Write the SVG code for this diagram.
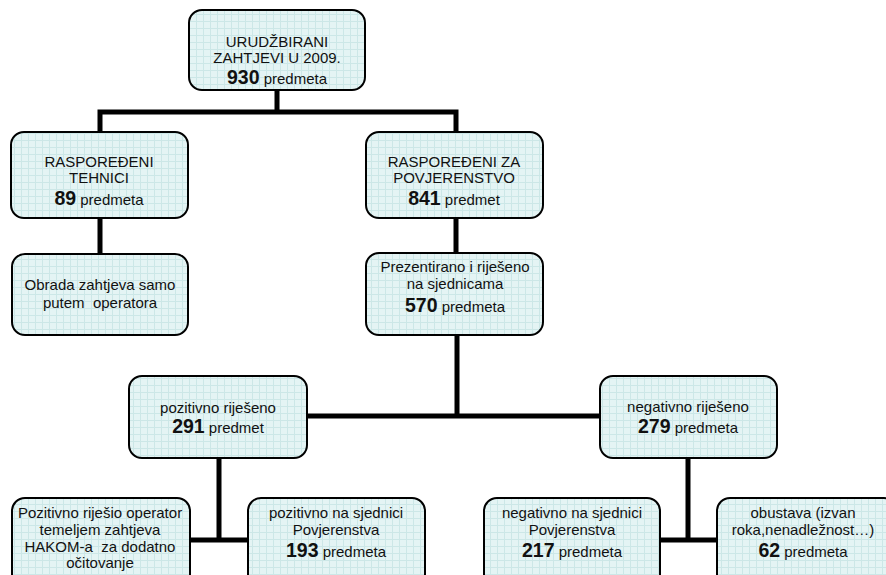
<svg xmlns="http://www.w3.org/2000/svg" width="886" height="575" viewBox="0 0 886 575">
<defs>
<pattern id="grid" width="7" height="7" patternUnits="userSpaceOnUse">
<rect width="7" height="7" fill="#e4f4f4"/>
<path d="M0 0.5H7M0.5 0V7" stroke="#cce7e7" stroke-width="1" fill="none"/>
</pattern>
<style>
.box{fill:url(#grid);stroke:#000;stroke-width:2}
.t{font-family:"Liberation Sans",Arial,sans-serif;font-size:15px;fill:#111;text-anchor:middle;white-space:pre}
.b{font-weight:bold;font-size:19.5px}
.c{stroke:#000;stroke-width:5;fill:none;stroke-linecap:square}
</style>
</defs>
<rect width="886" height="575" fill="#fff"/>
<g id="connectors">
<path class="c" d="M277 90V112M100 112H456M100 112V132M456 112V132"/>
<path class="c" d="M100 218V254M456 218V253"/>
<path class="c" d="M457 335V416M307 416H600"/>
<path class="c" d="M219 458V540M190 540H248"/>
<path class="c" d="M688 458V540M660 540H717"/>
</g>
<g id="n-top">
<rect class="box" x="189" y="10" width="176" height="80" rx="13"/>
<text class="t" x="277" y="47">URUDŽBIRANI</text>
<text class="t" x="277" y="63">ZAHTJEVI U 2009.</text>
<text class="t" x="277" y="84"><tspan class="b">930</tspan> predmeta</text>
</g>
<g id="n-tehnici">
<rect class="box" x="11" y="132" width="177" height="86" rx="13"/>
<text class="t" x="99" y="167">RASPOREĐENI</text>
<text class="t" x="99" y="183">TEHNICI</text>
<text class="t" x="99" y="205"><tspan class="b">89</tspan> predmeta</text>
</g>
<g id="n-povjerenstvo">
<rect class="box" x="366" y="132" width="177" height="86" rx="13"/>
<text class="t" x="454" y="167">RASPOREĐENI ZA</text>
<text class="t" x="454" y="183">POVJERENSTVO</text>
<text class="t" x="454" y="205"><tspan class="b">841</tspan> predmet</text>
</g>
<g id="n-obrada">
<rect class="box" x="12" y="254" width="176" height="81" rx="13"/>
<text class="t" x="100" y="290">Obrada zahtjeva samo</text>
<text class="t" x="100" y="308">putem  operatora</text>
</g>
<g id="n-prezentirano">
<rect class="box" x="366" y="253" width="177" height="82" rx="13"/>
<text class="t" x="455" y="272">Prezentirano i riješeno</text>
<text class="t" x="455" y="289">na sjednicama</text>
<text class="t" x="455" y="312"><tspan class="b">570</tspan> predmeta</text>
</g>
<g id="n-pozitivno">
<rect class="box" x="129" y="376" width="178" height="82" rx="13"/>
<text class="t" x="218" y="413">pozitivno riješeno</text>
<text class="t" x="218" y="433"><tspan class="b">291</tspan> predmet</text>
</g>
<g id="n-negativno">
<rect class="box" x="600" y="376" width="177" height="82" rx="13"/>
<text class="t" x="688" y="412">negativno riješeno</text>
<text class="t" x="688" y="433"><tspan class="b">279</tspan> predmeta</text>
</g>
<g id="n-operator">
<rect class="box" x="12" y="498" width="178" height="95" rx="13"/>
<text class="t" x="100" y="518">Pozitivno riješio operator</text>
<text class="t" x="100" y="535">temeljem zahtjeva</text>
<text class="t" x="100" y="552">HAKOM-a  za dodatno</text>
<text class="t" x="100" y="568">očitovanje</text>
</g>
<g id="n-poz-sjednica">
<rect class="box" x="248" y="498" width="177" height="95" rx="13"/>
<text class="t" x="336" y="518">pozitivno na sjednici</text>
<text class="t" x="336" y="535">Povjerenstva</text>
<text class="t" x="336" y="557"><tspan class="b">193</tspan> predmeta</text>
</g>
<g id="n-neg-sjednica">
<rect class="box" x="484" y="498" width="176" height="95" rx="13"/>
<text class="t" x="572" y="518">negativno na sjednici</text>
<text class="t" x="572" y="535">Povjerenstva</text>
<text class="t" x="572" y="557"><tspan class="b">217</tspan> predmeta</text>
</g>
<g id="n-obustava">
<rect class="box" x="717" y="498" width="180" height="95" rx="13"/>
<text class="t" x="803" y="518">obustava (izvan</text>
<text class="t" x="803" y="535">roka,nenadležnost…)</text>
<text class="t" x="803" y="557"><tspan class="b">62</tspan> predmeta</text>
</g>
</svg>
